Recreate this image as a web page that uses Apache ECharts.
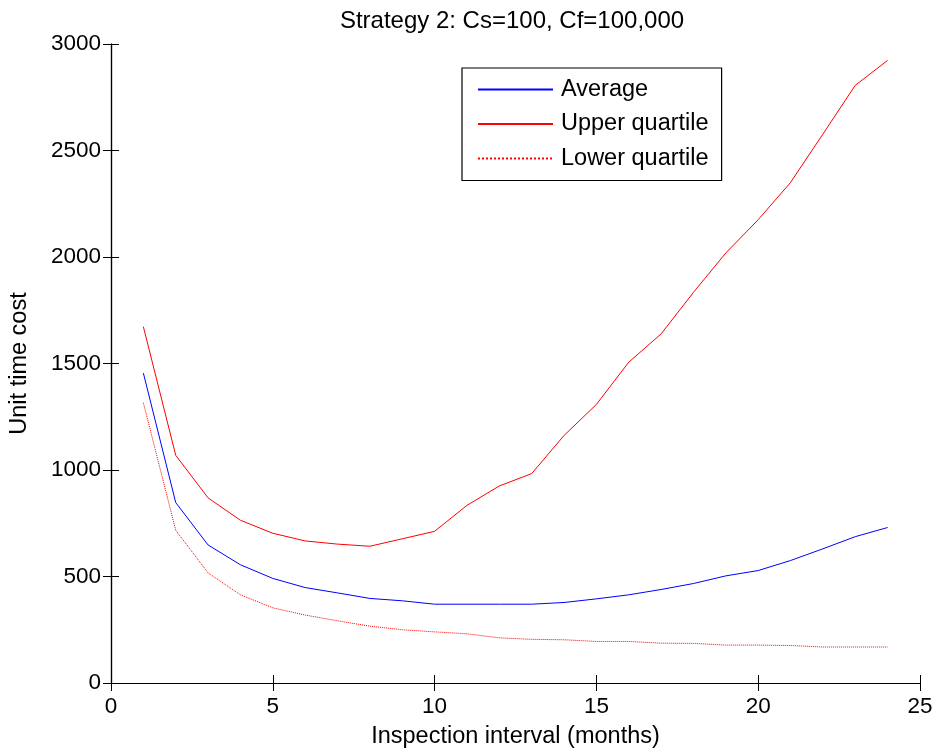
<!DOCTYPE html>
<html>
<head>
<meta charset="utf-8">
<title>Strategy 2: Cs=100, Cf=100,000</title>
<script src="https://cdn.jsdelivr.net/npm/echarts@6/dist/echarts.min.js"></script>
<style>
  html, body { margin: 0; padding: 0; background: #fff; }
  #chart { width: 936px; height: 755px; }
</style>
</head>
<body>
<div id="chart"></div>
<script>
// Inspection interval in months
const intervals = [1, 2, 3, 4, 5, 6, 7, 8, 9, 10, 11, 12, 13, 14, 15, 16, 17, 18, 19, 20, 21, 22, 23, 24];

// Unit time cost per interval
const average = [1455, 847, 648, 555, 491, 448, 423, 397, 386, 370, 370, 370, 370, 378, 395, 414, 439, 467, 503, 528, 575, 630, 687, 730];
const upperQuartile = [1673, 1069, 869, 764, 703, 667, 652, 642, 677, 712, 834, 925, 983, 1162, 1308, 1506, 1639, 1834, 2019, 2175, 2350, 2577, 2806, 2923];
const lowerQuartile = [1316, 717, 517, 414, 353, 319, 292, 267, 250, 240, 231, 212, 205, 203, 195, 195, 187, 186, 178, 178, 176, 169, 169, 169];

const seriesNames = ['Average', 'Upper quartile', 'Lower quartile'];
const titleText = 'Strategy 2: Cs=100, Cf=100,000';
const xName = 'Inspection interval (months)';
const yName = 'Unit time cost';

const FONT = "'Liberation Sans', Arial, Helvetica, sans-serif";
const pairs = (ys) => intervals.map((x, i) => [x, ys[i]]);

const axisLine = { show: true, lineStyle: { color: '#000', width: 1.2 } };
const tick = { show: true, inside: true, length: 8, lineStyle: { color: '#000', width: 1 } };
const plain = (v) => String(v);

const chart = echarts.init(document.getElementById('chart'), null, { renderer: 'canvas' });
chart.setOption({
  backgroundColor: '#fff',
  animation: false,
  title: {
    text: titleText,
    left: 507, top: 4, textAlign: 'center',
    textStyle: { fontFamily: FONT, fontSize: 24, fontWeight: 'normal', color: '#000' }
  },
  grid: { left: 110, right: 16, top: 44, bottom: 72, containLabel: false },
  legend: {
    data: seriesNames,
    orient: 'vertical',
    left: 462, top: 68,
    padding: [9.5, 13, 10, 15],
    itemWidth: 75, itemHeight: 14, itemGap: 10.5,
    borderColor: '#000', borderWidth: 1.2,
    backgroundColor: '#fff',
    itemStyle: { opacity: 0 },
    lineStyle: { opacity: 1 },
    textStyle: { fontFamily: FONT, fontSize: 23.5, color: '#000', lineHeight: 23, padding: [0, 0, 0, 3] }
  },
  xAxis: [
    {
      type: 'value', min: 0, max: 25, interval: 5,
      name: xName, nameLocation: 'middle', nameGap: 42,
      nameTextStyle: { fontFamily: FONT, fontSize: 23.5, color: '#000' },
      axisLine, axisTick: tick, splitLine: { show: false },
      axisLabel: { fontFamily: FONT, fontSize: 22.5, color: '#000', margin: 12, formatter: plain }
    },
    {
      type: 'value', position: 'top', min: 0, max: 25, interval: 5,
      axisLine, axisTick: tick, splitLine: { show: false }, axisLabel: { show: false }
    }
  ],
  yAxis: [
    {
      type: 'value', min: 0, max: 3000, interval: 500,
      name: yName, nameLocation: 'middle', nameGap: 79,
      nameTextStyle: { fontFamily: FONT, fontSize: 23.5, color: '#000' },
      axisLine, axisTick: tick, splitLine: { show: false },
      axisLabel: { fontFamily: FONT, fontSize: 22.5, color: '#000', margin: 10, formatter: plain }
    },
    {
      type: 'value', position: 'right', min: 0, max: 3000, interval: 500,
      axisLine, axisTick: tick, splitLine: { show: false }, axisLabel: { show: false }
    }
  ],
  series: [
    {
      name: seriesNames[0], type: 'line', data: pairs(average),
      symbol: 'none', color: '#0000ff',
      lineStyle: { color: '#0000ff', width: 1 }
    },
    {
      name: seriesNames[1], type: 'line', data: pairs(upperQuartile),
      symbol: 'none', color: '#ff0000',
      lineStyle: { color: '#ff0000', width: 1 }
    },
    {
      name: seriesNames[2], type: 'line', data: pairs(lowerQuartile),
      symbol: 'none', color: '#ff0000',
      lineStyle: { color: '#ff0000', width: 1, type: 'dotted' }
    }
  ]
});
</script>
</body>
</html>
